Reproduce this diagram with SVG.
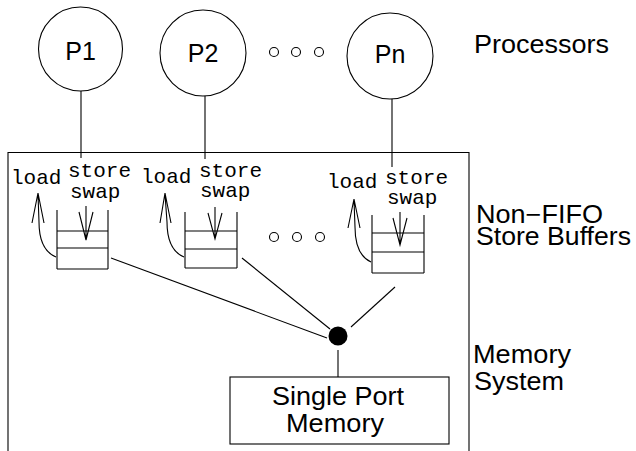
<svg xmlns="http://www.w3.org/2000/svg" width="636" height="451" viewBox="0 0 636 451">
  <style>
    .ln { fill: none; stroke: #000; stroke-width: 1.1; }
    .sans { font-family: "Liberation Sans", Arial, sans-serif; font-size: 25px; fill: #000; }
    .mono { font-family: "Liberation Mono", "Courier New", monospace; font-size: 21px; fill: #000; }
    .dot { fill: #fff; stroke: #000; stroke-width: 1.1; }
  </style>
  <rect width="636" height="451" fill="#fff"/>

  <!-- processors -->
  <g id="p1">
    <circle class="ln" cx="80.5" cy="49" r="42"/>
    <text class="sans" x="80.5" y="60" text-anchor="middle">P1</text>
  </g>
  <g id="p2">
    <circle class="ln" cx="203" cy="53" r="43"/>
    <text class="sans" x="203" y="62" text-anchor="middle">P2</text>
  </g>
  <g id="pn">
    <circle class="ln" cx="390" cy="56" r="43"/>
    <text class="sans" x="390" y="63" text-anchor="middle">Pn</text>
  </g>
  <g id="proc-dots">
    <circle class="dot" cx="274" cy="52" r="4.5"/>
    <circle class="dot" cx="296" cy="52" r="4.5"/>
    <circle class="dot" cx="319" cy="52" r="4.5"/>
  </g>

  <!-- memory system enclosure (open at the bottom) -->
  <g id="enclosure">
    <polyline class="ln" points="8,451 8,152.5 469,152.5 469,451"/>
  </g>

  <!-- store buffer 1 -->
  <g id="buf1">
    <text class="mono" x="11" y="184">load</text>
    <text class="mono" x="68" y="177">store</text>
    <text class="mono" x="70" y="198">swap</text>
    <path class="ln" d="M57,210 V269 M108,210 V269 M57,231 H108 M57,248 H108 M57,269 H108"/>
    <path class="ln" d="M86,206 V240 M79,212 L86,240 L93,212"/>
    <path class="ln" d="M56,257 C44,252 39,240 39,222 L38,194 M32,223 L38,193 L44,223"/>
  </g>

  <!-- store buffer 2 -->
  <g id="buf2">
    <text class="mono" x="141" y="183">load</text>
    <text class="mono" x="199" y="177">store</text>
    <text class="mono" x="200" y="197">swap</text>
    <path class="ln" d="M185,212 V268 M237,212 V268 M185,231 H237 M185,249 H237 M185,268 H237"/>
    <path class="ln" d="M215,207 V239 M208,213 L215,239 L222,213"/>
    <path class="ln" d="M184,257 C172,252 167,240 167,222 L165,194 M160,223 L165,193 L171,223"/>
  </g>

  <g id="buf-dots">
    <circle class="dot" cx="274" cy="237" r="4.5"/>
    <circle class="dot" cx="297" cy="237" r="4.5"/>
    <circle class="dot" cx="320" cy="237" r="4.5"/>
  </g>

  <!-- store buffer n -->
  <g id="bufn">
    <text class="mono" x="327" y="188">load</text>
    <text class="mono" x="385" y="184">store</text>
    <text class="mono" x="387" y="204">swap</text>
    <path class="ln" d="M372,215 V273 M424,215 V273 M372,233 H424 M372,252 H424 M372,273 H424"/>
    <path class="ln" d="M400,212 V245 M393,218 L400,245 L407,218"/>
    <path class="ln" d="M371,262 C360,257 355,245 355,227 L354,200 M348,228 L354,199 L360,228"/>
  </g>

  <!-- shared port -->
  <g id="junction">
    <circle cx="338" cy="336" r="9.5" fill="#000"/>
  </g>

  <g id="memory">
    <rect class="ln" x="230" y="377" width="219" height="67"/>
    <text class="sans" x="272" y="405" textLength="132" lengthAdjust="spacingAndGlyphs">Single Port</text>
    <text class="sans" x="286" y="432" textLength="98" lengthAdjust="spacingAndGlyphs">Memory</text>
  </g>

  <!-- connectors -->
  <g id="connectors">
    <line class="ln" x1="81" y1="91" x2="81" y2="158"/>
    <line class="ln" x1="205" y1="96" x2="205" y2="159"/>
    <line class="ln" x1="392" y1="99" x2="392" y2="167"/>
    <line class="ln" x1="111" y1="258" x2="327" y2="338"/>
    <line class="ln" x1="242" y1="258" x2="330" y2="329"/>
    <line class="ln" x1="395" y1="287" x2="351" y2="327"/>
    <line class="ln" x1="338" y1="350" x2="338" y2="377"/>
  </g>

  <!-- level labels -->
  <g id="labels">
    <text class="sans" x="474" y="53" textLength="135" lengthAdjust="spacingAndGlyphs">Processors</text>
    <text class="sans" x="476" y="223" textLength="127" lengthAdjust="spacingAndGlyphs">Non−FIFO</text>
    <text class="sans" x="476" y="245" textLength="155" lengthAdjust="spacingAndGlyphs">Store Buffers</text>
    <text class="sans" x="473" y="363" textLength="98" lengthAdjust="spacingAndGlyphs">Memory</text>
    <text class="sans" x="474" y="390" textLength="90" lengthAdjust="spacingAndGlyphs">System</text>
  </g>
</svg>
